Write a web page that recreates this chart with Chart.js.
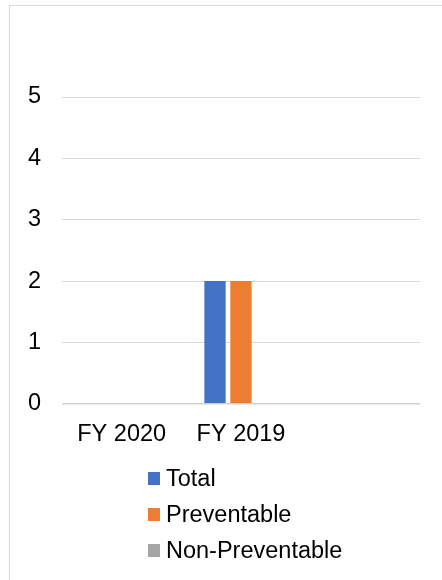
<!DOCTYPE html>
<html>
<head>
<meta charset="utf-8">
<script src="https://cdn.jsdelivr.net/npm/chart.js@4/dist/chart.umd.min.js"></script>
<style>
  html, body { margin: 0; padding: 0; background: #fff; }
  #wrap { position: relative; width: 442px; height: 580px; overflow: hidden; }
  #frame { position: absolute; left: 9px; top: 5px; width: 460px; height: 600px;
           border-left: 1.5px solid #d9d9d9; border-top: 1.5px solid #d9d9d9; box-sizing: border-box; }
  #c { position: absolute; left: 0; top: 0; }
  #legend { position: absolute; left: 148px; top: 465px; font-family: "Liberation Sans", Arial, sans-serif;
            font-size: 23.5px; color: #000; }
  .li { position: relative; height: 36.2px; line-height: 27px; white-space: nowrap; }
  .li span.box { position: absolute; left: 0; top: 7px; width: 12px; height: 13px; }
  .li span.txt { position: absolute; left: 18px; top: 0; }
</style>
</head>
<body>
<div id="wrap">
  <div id="frame"></div>
  <canvas id="c" width="442" height="580"></canvas>
  <div id="legend"></div>
</div>
<script>
const categories = ["FY 2020", "FY 2019", ""];
const seriesNames = ["Total", "Preventable", "Non-Preventable"];
const totalValues = [0, 2, null];
const preventableValues = [0, 2, null];
const nonPreventableValues = [0, 0, null];
const seriesColors = ["#4472C4", "#ED7D31", "#A5A5A5"];
const yTicks = [0, 1, 2, 3, 4, 5];

const FONT = "'Liberation Sans', Arial, sans-serif";

const htmlLegend = {
  id: 'htmlLegend',
  afterUpdate(chart) {
    const el = document.getElementById('legend');
    el.innerHTML = '';
    const items = chart.options.plugins.legend.labels.generateLabels(chart);
    items.forEach(item => {
      const row = document.createElement('div');
      row.className = 'li';
      const box = document.createElement('span');
      box.className = 'box';
      box.style.background = item.fillStyle;
      const txt = document.createElement('span');
      txt.className = 'txt';
      txt.textContent = item.text;
      row.appendChild(box);
      row.appendChild(txt);
      el.appendChild(row);
    });
  }
};

const datasets = [totalValues, preventableValues, nonPreventableValues].map((vals, i) => ({
  label: seriesNames[i],
  data: vals,
  backgroundColor: seriesColors[i],
  borderWidth: 0,
  categoryPercentage: 0.6536,
  barPercentage: 0.82
}));

new Chart(document.getElementById('c'), {
  type: 'bar',
  data: { labels: categories, datasets },
  options: {
    responsive: false,
    animation: false,
    events: [],
    layout: { padding: { left: 10, right: 22, top: 97, bottom: 114 } },
    plugins: {
      legend: { display: false },
      tooltip: { enabled: false },
      title: { display: false }
    },
    scales: {
      x: {
        grid: { display: false, drawTicks: false },
        border: { display: false },
        ticks: { font: { family: FONT, size: 23.5 }, color: '#000', padding: 17, maxRotation: 0, autoSkip: false }
      },
      y: {
        min: 0, max: 5,
        afterBuildTicks: s => { s.ticks = yTicks.map(v => ({ value: v })); },
        afterFit: s => { s.width = 52; },
        grid: {
          drawTicks: false,
          color: ctx => ctx.tick && ctx.tick.value === 0 ? '#d0d0d0' : '#d9d9d9',
          lineWidth: ctx => ctx.tick && ctx.tick.value === 0 ? 1.6 : 1
        },
        border: { display: false },
        ticks: { font: { family: FONT, size: 23.5 }, color: '#000', padding: 21 }
      }
    }
  },
  plugins: [htmlLegend]
});
</script>
</body>
</html>
